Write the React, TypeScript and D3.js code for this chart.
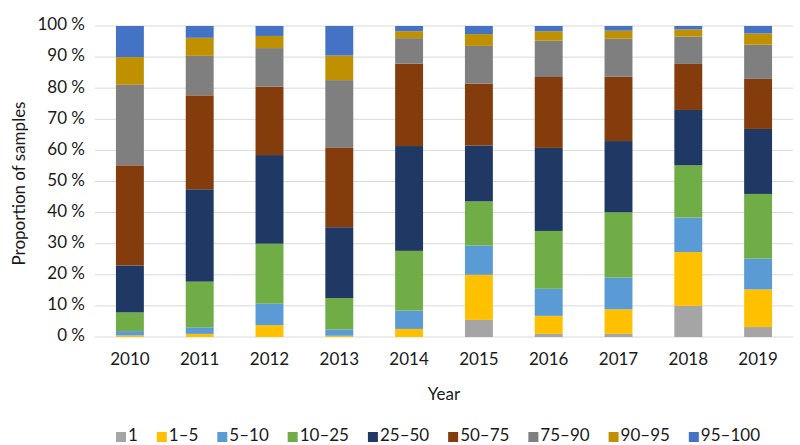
import * as d3 from "d3";
import React from "react";

const years = ["2010", "2011", "2012", "2013", "2014", "2015", "2016", "2017", "2018", "2019"];
const bins = ["1", "1–5", "5–10", "10–25", "25–50", "50–75", "75–90", "90–95", "95–100"];
const binColors = ["#a5a5a5", "#ffc000", "#5b9bd5", "#70ad47", "#1f3864", "#843c0c", "#7f7f7f", "#bf9000", "#4472c4"];

// share of samples (%) per bin, one array per bin, in year order
const bin1 = [0, 0, 0, 0, 0, 5.5, 1.0, 1.0, 10.0, 3.2];
const bin1to5 = [0.5, 1.0, 3.8, 0.4, 2.6, 14.5, 5.8, 7.9, 17.3, 12.1];
const bin5to10 = [1.4, 2.1, 6.9, 2.0, 5.9, 9.4, 8.7, 10.2, 11.1, 9.9];
const bin10to25 = [6.0, 14.7, 19.3, 10.1, 19.2, 14.2, 18.6, 21.0, 16.8, 20.8];
const bin25to50 = [15.1, 29.7, 28.5, 22.8, 33.7, 18.0, 26.7, 22.9, 17.8, 20.9];
const bin50to75 = [32.2, 30.2, 22.0, 25.5, 26.5, 19.9, 22.8, 20.7, 14.8, 16.1];
const bin75to90 = [25.9, 12.7, 12.4, 21.8, 8.2, 12.1, 11.7, 12.2, 8.8, 11.0];
const bin90to95 = [8.9, 5.8, 3.9, 7.9, 2.2, 3.8, 3.0, 2.6, 2.3, 3.6];
const bin95to100 = [10.0, 3.8, 3.2, 9.5, 1.7, 2.6, 1.7, 1.5, 1.1, 2.4];

const series = [bin1, bin1to5, bin5to10, bin10to25, bin25to50, bin50to75, bin75to90, bin90to95, bin95to100];
const yTicks = [0, 10, 20, 30, 40, 50, 60, 70, 80, 90, 100];

const width = 800;
const height = 445;
const margin = { top: 26, right: 7, bottom: 108, left: 95 };
const font = "Lato, 'Liberation Sans', sans-serif";
const fontSize = 17;
const ink = "#1a1a1a";

export default function App() {
  const ref = React.useRef<SVGSVGElement | null>(null);

  React.useEffect(() => {
    if (!ref.current) return;
    const svg = d3.select(ref.current);
    svg.selectAll("*").remove();

    const x = d3
      .scaleBand<string>()
      .domain(years)
      .range([margin.left, width - margin.right])
      .paddingInner(0.6)
      .paddingOuter(0.3);

    const y = d3
      .scaleLinear()
      .domain([0, 100])
      .range([height - margin.bottom, margin.top]);

    // gridlines
    svg
      .append("g")
      .selectAll("line")
      .data(yTicks)
      .join("line")
      .attr("x1", margin.left)
      .attr("x2", width - margin.right)
      .attr("y1", (d) => y(d))
      .attr("y2", (d) => y(d))
      .attr("stroke", "#d9d9d9")
      .attr("stroke-width", 1);

    svg
      .append("g")
      .selectAll("text")
      .data(yTicks)
      .join("text")
      .attr("x", margin.left - 10)
      .attr("y", (d) => y(d))
      .attr("text-anchor", "end")
      .attr("dominant-baseline", "middle")
      .attr("font-family", font)
      .attr("font-size", fontSize)
      .attr("fill", ink)
      .text((d) => `${d} %`);

    // stacked bars
    const rows = years.map((yr, i) => {
      const row: Record<string, number | string> = { year: yr };
      bins.forEach((b, j) => (row[b] = series[j][i]));
      return row;
    });
    const stacked = d3.stack<Record<string, number | string>>().keys(bins).value((d, k) => d[k] as number)(rows);

    svg
      .append("g")
      .selectAll("g")
      .data(stacked)
      .join("g")
      .attr("fill", (_, i) => binColors[i])
      .selectAll("rect")
      .data((s) => s)
      .join("rect")
      .attr("x", (d) => x(d.data.year as string)!)
      .attr("width", x.bandwidth())
      .attr("y", (d) => y(d[1]))
      .attr("height", (d) => Math.max(0, y(d[0]) - y(d[1])));

    // x labels
    svg
      .append("g")
      .selectAll("text")
      .data(years)
      .join("text")
      .attr("x", (d) => x(d)! + x.bandwidth() / 2)
      .attr("y", height - margin.bottom + 24)
      .attr("text-anchor", "middle")
      .attr("dominant-baseline", "middle")
      .attr("font-family", font)
      .attr("font-size", fontSize)
      .attr("fill", ink)
      .text((d) => d);

    svg
      .append("text")
      .attr("x", (margin.left + width - margin.right) / 2)
      .attr("y", 396)
      .attr("text-anchor", "middle")
      .attr("dominant-baseline", "middle")
      .attr("font-family", font)
      .attr("font-size", fontSize)
      .attr("fill", ink)
      .text("Year");

    svg
      .append("text")
      .attr("transform", `translate(21, ${(y(0) + y(100)) / 2 + 2}) rotate(-90)`)
      .attr("text-anchor", "middle")
      .attr("dominant-baseline", "middle")
      .attr("font-family", font)
      .attr("font-size", fontSize)
      .attr("fill", ink)
      .text("Proportion of samples");

    // legend, spread across the same span as the original
    const legendLeft = 116;
    const legendRight = 760;
    const legend = svg.append("g").attr("transform", `translate(${legendLeft},437)`);
    const items = bins.map((b, i) => {
      const item = legend.append("g");
      item.append("rect").attr("x", 0).attr("y", -5).attr("width", 10).attr("height", 10).attr("fill", binColors[i]);
      const t = item
        .append("text")
        .attr("x", 12)
        .attr("y", 0)
        .attr("dominant-baseline", "middle")
        .attr("font-family", font)
        .attr("font-size", fontSize)
        .attr("fill", ink)
        .text(b);
      return { item, w: 12 + (t.node() as SVGTextElement).getComputedTextLength() };
    });
    const used = d3.sum(items, (d) => d.w);
    const gap = (legendRight - legendLeft - used) / (items.length - 1);
    let cx = 0;
    items.forEach((d) => {
      d.item.attr("transform", `translate(${cx},0)`);
      cx += d.w + gap;
    });
  }, []);

  return (
    <svg
      ref={ref}
      width={width}
      height={height}
      style={{ position: "absolute", left: 0, top: 0, background: "#fff" }}
    />
  );
}
